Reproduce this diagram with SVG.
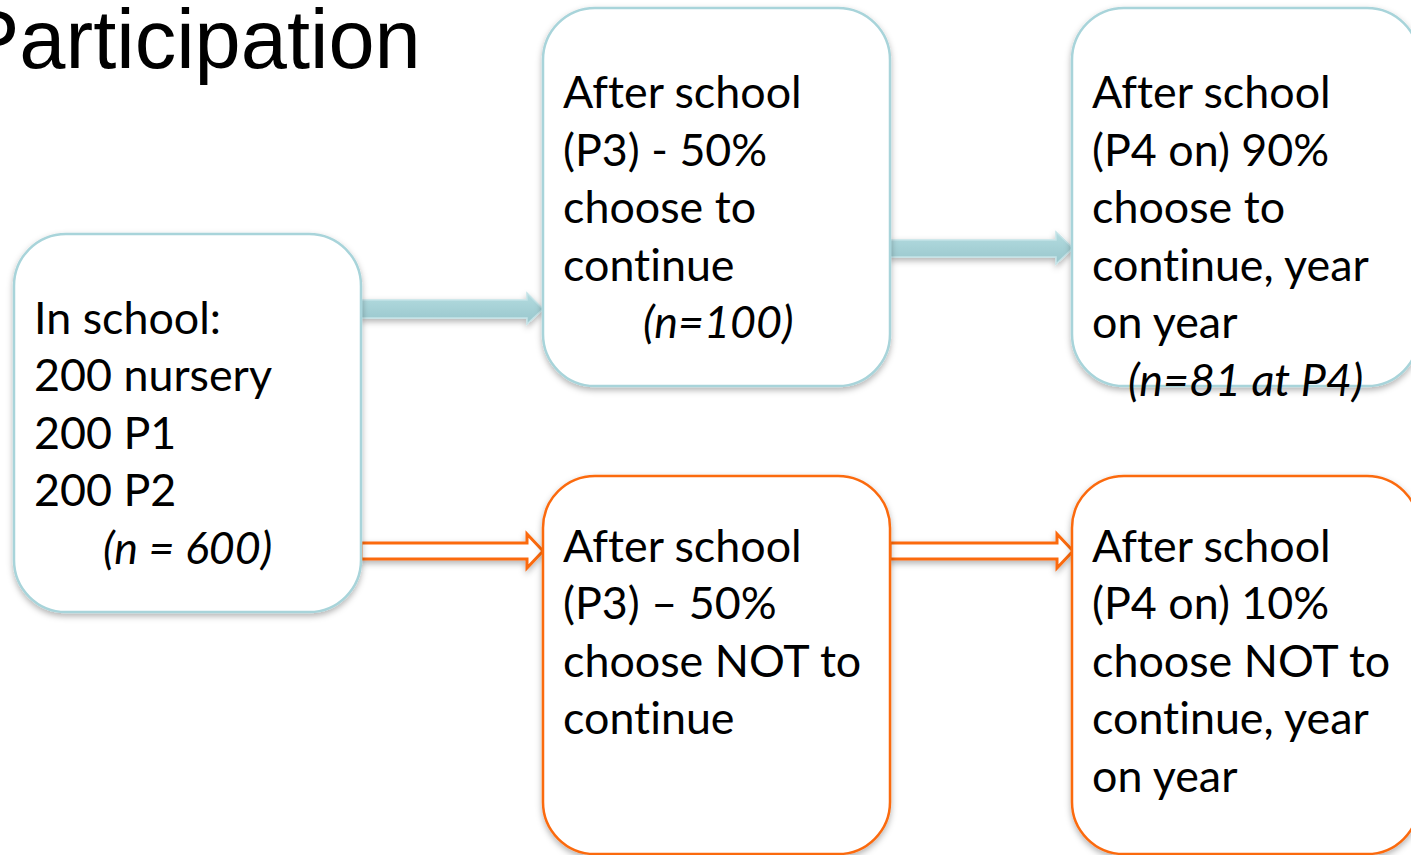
<svg xmlns="http://www.w3.org/2000/svg" width="1411" height="855" viewBox="0 0 1411 855">
<style>
.title{font-family:"Liberation Sans",Arial,sans-serif;font-size:83px;fill:#000}
.t{font-family:Lato,"Liberation Sans",sans-serif;font-size:44.8px;fill:#000;font-variant-ligatures:none}
.i{font-style:italic}
.teal{fill:#fff;stroke:#A8D4DA;stroke-width:2.5}
.orange{fill:#fff;stroke:#FB6A10;stroke-width:2.5}
.ta{fill:url(#tg);stroke:#C4E3E7;stroke-width:1.5}
.oa{fill:#fff;stroke:#FB6A10;stroke-width:3}
</style>
<defs>
<filter id="sh" x="-10%" y="-10%" width="120%" height="125%">
<feDropShadow dx="0" dy="3" stdDeviation="3" flood-color="#000" flood-opacity="0.3"/>
</filter>
<linearGradient id="tg" x1="0" y1="0" x2="0" y2="1">
<stop offset="0" stop-color="#B4DCE0"/>
<stop offset="1" stop-color="#98C6CC"/>
</linearGradient>
</defs>
<rect width="1411" height="855" fill="#fff"/>
<text class="title" x="-36" y="68">Participation</text>
<g id="connectors" filter="url(#sh)">
<path id="c1" class="ta" d="M361,300 H527 V293 L543,309 L527,324 V318 H361 Z"/>
<path id="c2" class="ta" d="M890,240 H1056 V232 L1073,248 L1056,264 V257 H890 Z"/>
<path id="c3" class="oa" d="M361,543 H527 V534 L543,551 L527,568 V559 H361 Z"/>
<path id="c4" class="oa" d="M890,543 H1057 V534 L1073,551 L1057,568 V559 H890 Z"/>
</g>
<g id="n1">
<rect class="teal" x="14" y="234" width="347" height="378" rx="52" filter="url(#sh)"/>
<text class="t" x="34" y="334">In school:</text>
<text class="t" x="34" y="391">200 nursery</text>
<text class="t" x="34" y="449">200 P1</text>
<text class="t" x="34" y="506">200 P2</text>
<text class="t i" x="103" y="564">(n = 600)</text>
</g>
<g id="n2">
<rect class="teal" x="543" y="8" width="347" height="378" rx="52" filter="url(#sh)"/>
<text class="t" x="563" y="108">After school</text>
<text class="t" x="563" y="166">(P3) - 50%</text>
<text class="t" x="563" y="223">choose to</text>
<text class="t" x="563" y="281">continue</text>
<text class="t i" x="643" y="338">(n=100)</text>
</g>
<g id="n3">
<rect class="teal" x="1072" y="8" width="347" height="378" rx="52" filter="url(#sh)"/>
<text class="t" x="1092" y="108">After school</text>
<text class="t" x="1092" y="166">(P4 on) 90%</text>
<text class="t" x="1092" y="223">choose to</text>
<text class="t" x="1092" y="281">continue, year</text>
<text class="t" x="1092" y="338">on year</text>
<text class="t i" x="1128" y="396">(n=81 at P4)</text>
</g>
<g id="n4">
<rect class="orange" x="543" y="476" width="347" height="378" rx="52" filter="url(#sh)"/>
<text class="t" x="563" y="562">After school</text>
<text class="t" x="563" y="619">(P3) – 50%</text>
<text class="t" x="563" y="677">choose NOT to</text>
<text class="t" x="563" y="734">continue</text>
</g>
<g id="n5">
<rect class="orange" x="1072" y="476" width="347" height="378" rx="52" filter="url(#sh)"/>
<text class="t" x="1092" y="562">After school</text>
<text class="t" x="1092" y="619">(P4 on) 10%</text>
<text class="t" x="1092" y="677">choose NOT to</text>
<text class="t" x="1092" y="734">continue, year</text>
<text class="t" x="1092" y="792">on year</text>
</g>
</svg>
